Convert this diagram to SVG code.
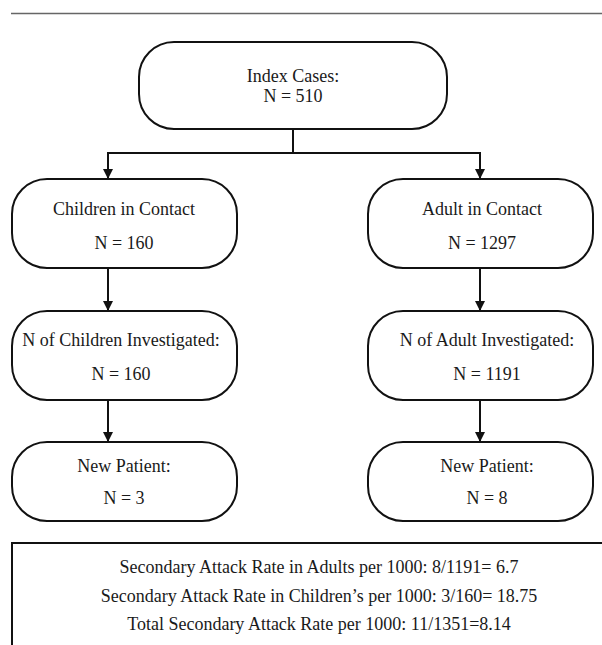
<svg xmlns="http://www.w3.org/2000/svg" width="602" height="645" viewBox="0 0 602 645">
<defs>
<style>
.box{fill:#fff;stroke:#111;stroke-width:2}
.t{font-family:"Liberation Serif","Times New Roman",serif;font-size:18px;fill:#1a1a1a;text-anchor:middle}
.c{fill:none;stroke:#111;stroke-width:2}
</style>
<marker id="ah" markerWidth="10" markerHeight="10" refX="9" refY="5" orient="auto" markerUnits="userSpaceOnUse">
<path d="M0,0 L10,5 L0,10 z" fill="#111"/>
</marker>
</defs>
<rect width="602" height="645" fill="#fff"/>
<line x1="11" y1="13.5" x2="602" y2="13.5" stroke="#666" stroke-width="1.5"/>
<g id="connectors">
<polyline class="c" points="293,129 293,153 108,153 108,178" marker-end="url(#ah)"/>
<polyline class="c" points="293,153 480,153 480,178" marker-end="url(#ah)"/>
<line class="c" x1="108" y1="268" x2="108" y2="310" marker-end="url(#ah)"/>
<line class="c" x1="480" y1="268" x2="480" y2="310" marker-end="url(#ah)"/>
<line class="c" x1="108" y1="400" x2="108" y2="441" marker-end="url(#ah)"/>
<line class="c" x1="480" y1="400" x2="480" y2="441" marker-end="url(#ah)"/>
</g>
<g id="index">
<rect class="box" x="139" y="42" width="308" height="87" rx="35" ry="35"/>
<text class="t" x="293" y="82">Index Cases:</text>
<text class="t" x="293" y="102">N = 510</text>
</g>
<g id="children">
<rect class="box" x="12" y="179" width="225" height="89" rx="35" ry="35"/>
<text class="t" x="124" y="215">Children in Contact</text>
<text class="t" x="124" y="249">N = 160</text>
</g>
<g id="adult">
<rect class="box" x="368" y="179" width="225" height="89" rx="35" ry="35"/>
<text class="t" x="482" y="215">Adult in Contact</text>
<text class="t" x="482" y="249">N = 1297</text>
</g>
<g id="childrenInv">
<rect class="box" x="12" y="311" width="225" height="89" rx="35" ry="35"/>
<text class="t" x="121" y="346">N of Children Investigated:</text>
<text class="t" x="121" y="380">N = 160</text>
</g>
<g id="adultInv">
<rect class="box" x="368" y="311" width="225" height="89" rx="35" ry="35"/>
<text class="t" x="487" y="346">N of Adult Investigated:</text>
<text class="t" x="487" y="380">N = 1191</text>
</g>
<g id="childrenNew">
<rect class="box" x="12" y="442" width="225" height="79" rx="35" ry="35"/>
<text class="t" x="124" y="472">New Patient:</text>
<text class="t" x="124" y="504">N = 3</text>
</g>
<g id="adultNew">
<rect class="box" x="368" y="442" width="225" height="79" rx="35" ry="35"/>
<text class="t" x="487" y="472">New Patient:</text>
<text class="t" x="487" y="504">N = 8</text>
</g>
<g id="summary">
<polyline class="c" points="12,660 12,543 610,543"/>
<text class="t" x="319" y="573">Secondary Attack Rate in Adults per 1000: 8/1191= 6.7</text>
<text class="t" x="319" y="602">Secondary Attack Rate in Children’s per 1000: 3/160= 18.75</text>
<text class="t" x="319" y="630">Total Secondary Attack Rate per 1000: 11/1351=8.14</text>
</g>
</svg>
